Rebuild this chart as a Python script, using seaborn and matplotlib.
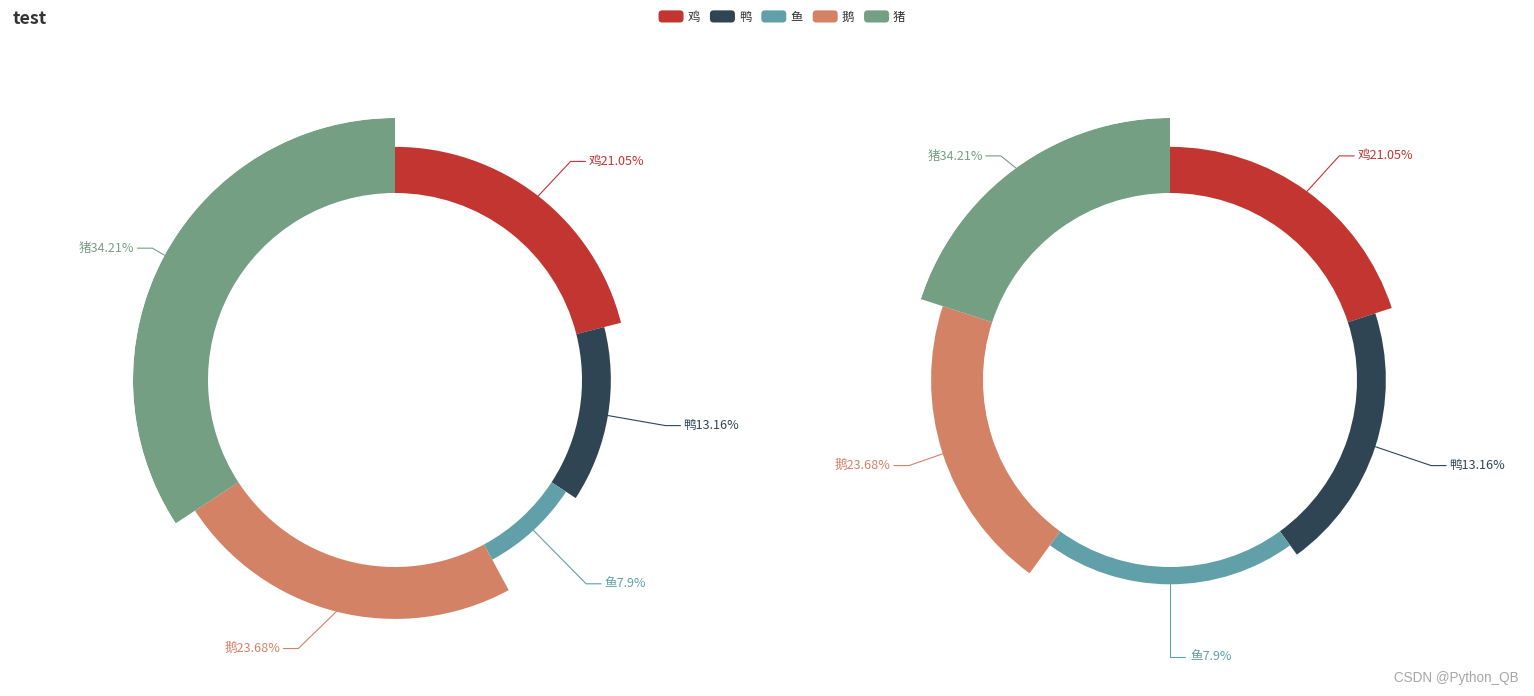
import numpy as np
import matplotlib
matplotlib.use("Agg")
import matplotlib.pyplot as plt
import matplotlib.patches as mpatches
from matplotlib.legend_handler import HandlerPatch
import seaborn as sns

# ---- data ----
categories = ['鸡', '鸭', '鱼', '鹅', '猪']
values = [8, 5, 3, 9, 13]
palette_hex = ['#c23531', '#2f4554', '#61a0a8', '#d48265', '#749f83']
title_text = 'test'
watermark = 'CSDN @Python_QB'

sns.set_theme(style='white')
plt.rcParams['font.family'] = ['Noto Sans CJK SC', 'DejaVu Sans']
colors = sns.color_palette(palette_hex)

W, H = 1534, 696
fig = plt.figure(figsize=(W / 100, H / 100), dpi=100)
fig.patch.set_facecolor('white')

vals = np.array(values, dtype=float)
total = vals.sum()

# percentages with largest-remainder rounding (2 decimals, sum = 100)
raw = vals / total * 10000
fl = np.floor(raw)
rem = raw - fl
need = int(round(10000 - fl.sum()))
for i in np.argsort(-rem)[:need]:
    fl[i] += 1
pct_labels = ['%g%%' % (v / 100) for v in fl]

R_OUT = 262.0    # outer radius (px)
R_IN = 187.0     # inner radius (px)
LEN1 = 15.0
LEN2 = 15.0
FS = 12.6 * 0.72


def make_axes(cx, cy):
    left = (cx - R_OUT) / W
    bottom = (H - cy - R_OUT) / H
    ax = fig.add_axes([left, bottom, 2 * R_OUT / W, 2 * R_OUT / H], projection='polar')
    ax.set_theta_zero_location('N')
    ax.set_theta_direction(-1)
    ax.set_ylim(0, R_OUT)
    ax.set_axis_off()
    return ax


def to_polar(px, py_down):
    # pixel offset from centre (x right, y down) -> (theta, r)
    return np.arctan2(px, -py_down), np.hypot(px, py_down)


def draw_rose(ax, widths):
    starts = np.concatenate([[0], np.cumsum(widths)[:-1]])
    mids = starts + widths / 2
    heights = (R_OUT - R_IN) * vals / vals.max()
    ax.bar(mids, heights, width=widths, bottom=R_IN, color=colors,
           linewidth=0, align='center')
    for th, h, c, cat, p in zip(mids, heights, colors, categories, pct_labels):
        r_edge = R_IN + h
        sx, sy = np.sin(th), -np.cos(th)          # direction, y down
        dirn = -1 if sx < -1e-9 else 1
        y2 = sy * (R_OUT + LEN1)
        x2 = sx * (R_OUT + LEN1)
        x3 = x2 + dirn * LEN2
        if abs(y2) < R_OUT + LEN1 - 1e-6:
            tx = dirn * np.sqrt((R_OUT + LEN1 + LEN2) ** 2 - y2 ** 2)
            lend = tx - dirn * 3
            bend = lend - dirn * LEN2
        else:
            tx = x3 + dirn * 5
            lend = x3
            bend = x2
        pts = [(th, r_edge), to_polar(bend, y2), to_polar(lend, y2)]
        ax.plot([q[0] for q in pts], [q[1] for q in pts], color=c, lw=0.8,
                clip_on=False, solid_joinstyle='miter')
        tth, tr = to_polar(tx, y2)
        ax.text(tth, tr, cat + p, fontsize=FS, color=c, clip_on=False,
                ha='left' if dirn > 0 else 'right', va='center')


# left: radius rose (angle and radius proportional to value)
ax1 = make_axes(395, 380)
draw_rose(ax1, vals / total * 2 * np.pi)

# right: area rose (equal angles, radius proportional to value)
ax2 = make_axes(1170, 380)
draw_rose(ax2, np.full(len(vals), 2 * np.pi / len(vals)))

# title
fig.text(13 / W, 1 - 19 / H, title_text, fontsize=18 * 0.72, fontweight='bold',
         color='#333333', ha='left', va='center')


# legend with rounded icons
class HandlerRound(HandlerPatch):
    def create_artists(self, legend, orig_handle, xdescent, ydescent, width,
                       height, fontsize, trans):
        p = mpatches.FancyBboxPatch((-xdescent, -ydescent), width, height,
                                    boxstyle=mpatches.BoxStyle('Round', pad=0,
                                                               rounding_size=height * 0.3),
                                    facecolor=orig_handle.get_facecolor(),
                                    edgecolor='none', transform=trans)
        return [p]


LFS = 12.4 * 0.72
handles = [mpatches.Patch(facecolor=c, label=cat) for c, cat in zip(colors, categories)]
leg = fig.legend(handles=handles, loc='center', bbox_to_anchor=(782 / W, 1 - 17 / H),
                 ncol=len(categories), frameon=False, fontsize=LFS,
                 handlelength=25 / 12.4, handleheight=14 / 12.4, handletextpad=4 / 12.4,
                 columnspacing=10 / 12.4, borderpad=0, borderaxespad=0,
                 handler_map={mpatches.Patch: HandlerRound()})
for t in leg.get_texts():
    t.set_color('#333333')

# watermark
fig.text(1519 / W, 1 - 678 / H, watermark, fontsize=13.5 * 0.72, color='#a6a6a6',
         ha='right', va='center', family=['Liberation Sans', 'DejaVu Sans'])

fig.savefig('out.png', dpi=100, facecolor='white')
